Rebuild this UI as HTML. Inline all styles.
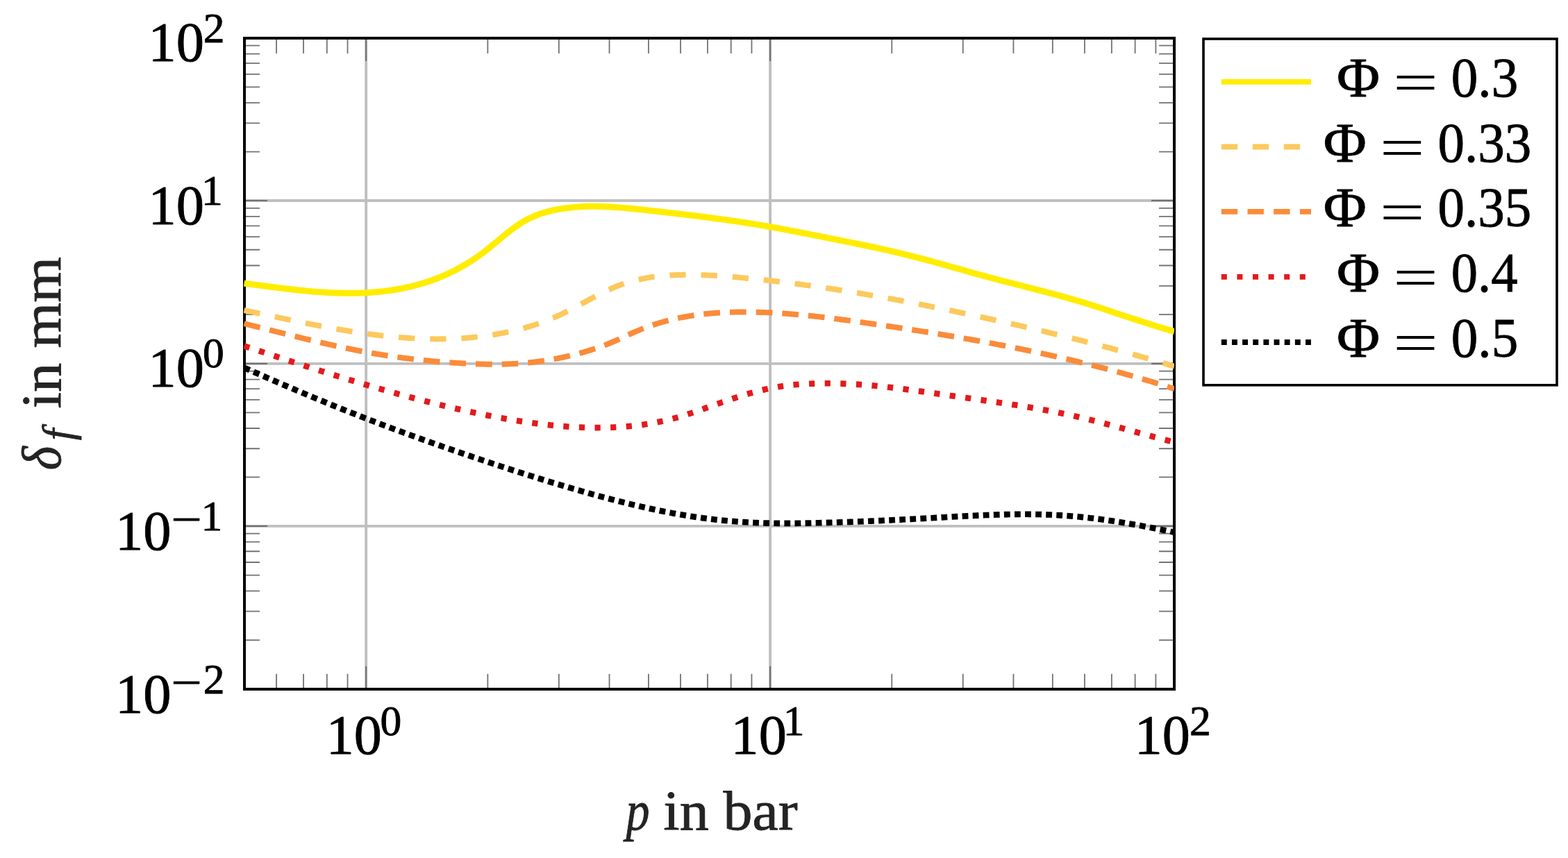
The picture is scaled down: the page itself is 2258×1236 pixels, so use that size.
<!DOCTYPE html><html><head><meta charset="utf-8"><title>flame thickness vs pressure</title><style>
html,body{margin:0;padding:0;background:#fff;width:2258px;height:1236px;overflow:hidden}
svg{display:block}
.t{font-family:"Liberation Serif","DejaVu Serif",serif;fill:#000;stroke:#000;stroke-width:0.9px;stroke-linejoin:round}.eq{font-family:"Liberation Serif","DejaVu Serif",serif;fill:#000}
.lab{font-family:"Liberation Serif","DejaVu Serif",serif;fill:#242424;stroke:#242424;stroke-width:0.9px;stroke-linejoin:round}
</style></head><body>
<svg width="2258" height="1236" viewBox="0 0 2258 1236">
<rect x="0" y="0" width="2258" height="1236" fill="#fff"/>
<defs><clipPath id="ax"><rect x="351" y="0" width="1340.00" height="1236"/></clipPath></defs>
<path d="M527.17,54.95V992.80M1109.09,54.95V992.80M352.00,289.04H1691.00M352.00,523.92H1691.00M352.00,757.86H1691.00" stroke="#bfbfbf" stroke-width="3.90" fill="none"/>
<path d="M398.08,992.80V970.80M398.08,54.95V76.95M437.03,992.80V970.80M437.03,54.95V76.95M470.78,992.80V970.80M470.78,54.95V76.95M500.55,992.80V970.80M500.55,54.95V76.95M702.35,992.80V970.80M702.35,54.95V76.95M804.82,992.80V970.80M804.82,54.95V76.95M877.52,992.80V970.80M877.52,54.95V76.95M933.91,992.80V970.80M933.91,54.95V76.95M979.99,992.80V970.80M979.99,54.95V76.95M1018.95,992.80V970.80M1018.95,54.95V76.95M1052.69,992.80V970.80M1052.69,54.95V76.95M1082.46,992.80V970.80M1082.46,54.95V76.95M1284.26,992.80V970.80M1284.26,54.95V76.95M1386.73,992.80V970.80M1386.73,54.95V76.95M1459.43,992.80V970.80M1459.43,54.95V76.95M1515.83,992.80V970.80M1515.83,54.95V76.95M1561.90,992.80V970.80M1561.90,54.95V76.95M1600.86,992.80V970.80M1600.86,54.95V76.95M1634.61,992.80V970.80M1634.61,54.95V76.95M1664.37,992.80V970.80M1664.37,54.95V76.95M352.00,922.08H374.00M1691.00,922.08H1669.00M352.00,880.71H374.00M1691.00,880.71H1669.00M352.00,851.35H374.00M1691.00,851.35H1669.00M352.00,828.58H374.00M1691.00,828.58H1669.00M352.00,809.98H374.00M1691.00,809.98H1669.00M352.00,794.25H374.00M1691.00,794.25H1669.00M352.00,780.63H374.00M1691.00,780.63H1669.00M352.00,768.61H374.00M1691.00,768.61H1669.00M352.00,687.44H374.00M1691.00,687.44H1669.00M352.00,646.24H374.00M1691.00,646.24H1669.00M352.00,617.01H374.00M1691.00,617.01H1669.00M352.00,594.34H374.00M1691.00,594.34H1669.00M352.00,575.82H374.00M1691.00,575.82H1669.00M352.00,560.16H374.00M1691.00,560.16H1669.00M352.00,546.59H374.00M1691.00,546.59H1669.00M352.00,534.62H374.00M1691.00,534.62H1669.00M352.00,453.21H374.00M1691.00,453.21H1669.00M352.00,411.85H374.00M1691.00,411.85H1669.00M352.00,382.51H374.00M1691.00,382.51H1669.00M352.00,359.75H374.00M1691.00,359.75H1669.00M352.00,341.15H374.00M1691.00,341.15H1669.00M352.00,325.42H374.00M1691.00,325.42H1669.00M352.00,311.80H374.00M1691.00,311.80H1669.00M352.00,299.79H374.00M1691.00,299.79H1669.00M352.00,218.57H374.00M1691.00,218.57H1669.00M352.00,177.35H374.00M1691.00,177.35H1669.00M352.00,148.10H374.00M1691.00,148.10H1669.00M352.00,125.41H374.00M1691.00,125.41H1669.00M352.00,106.87H374.00M1691.00,106.87H1669.00M352.00,91.20H374.00M1691.00,91.20H1669.00M352.00,77.63H374.00M1691.00,77.63H1669.00M352.00,65.65H374.00M1691.00,65.65H1669.00" stroke="#727272" stroke-width="1.80" fill="none"/>
<path d="M527.17,992.80V959.80M527.17,54.95V87.95M1109.09,992.80V959.80M1109.09,54.95V87.95M352.00,289.04H385.00M1691.00,289.04H1658.00M352.00,523.92H385.00M1691.00,523.92H1658.00M352.00,757.86H385.00M1691.00,757.86H1658.00" stroke="#727272" stroke-width="2.10" fill="none"/>
<rect x="352.00" y="54.95" width="1339.00" height="937.85" fill="none" stroke="#000" stroke-width="4.00"/>
<g clip-path="url(#ax)" fill="none" stroke-linecap="butt" stroke-linejoin="round">
<path d="M351.50,408.15 L354.50,408.54 L357.50,408.93 L360.50,409.32 L363.50,409.71 L366.50,410.11 L369.50,410.50 L372.50,410.90 L375.50,411.30 L378.50,411.69 L381.50,412.08 L384.50,412.48 L387.50,412.87 L390.50,413.25 L393.50,413.64 L396.50,414.02 L399.50,414.40 L402.50,414.78 L405.50,415.15 L408.50,415.51 L411.50,415.87 L414.50,416.23 L417.50,416.58 L420.50,416.92 L423.50,417.26 L426.50,417.59 L429.50,417.91 L432.50,418.22 L435.50,418.53 L438.50,418.83 L441.50,419.11 L444.50,419.39 L447.50,419.66 L450.50,419.92 L453.50,420.17 L456.50,420.40 L459.50,420.63 L462.50,420.84 L465.50,421.04 L468.50,421.23 L471.50,421.40 L474.50,421.56 L477.50,421.71 L480.50,421.84 L483.50,421.96 L486.50,422.06 L489.50,422.14 L492.50,422.22 L495.50,422.27 L498.50,422.31 L501.50,422.33 L504.50,422.33 L507.50,422.31 L510.50,422.28 L513.50,422.23 L516.50,422.15 L519.50,422.06 L522.50,421.95 L525.50,421.82 L528.50,421.66 L531.50,421.49 L534.50,421.29 L537.50,421.07 L540.50,420.83 L543.50,420.57 L546.50,420.28 L549.50,419.97 L552.50,419.63 L555.50,419.27 L558.50,418.88 L561.50,418.46 L564.50,418.02 L567.50,417.55 L570.50,417.06 L573.50,416.53 L576.50,415.98 L579.50,415.40 L582.50,414.78 L585.50,414.14 L588.50,413.47 L591.50,412.76 L594.50,412.03 L597.50,411.26 L600.50,410.46 L603.50,409.62 L606.50,408.75 L609.50,407.85 L612.50,406.91 L615.50,405.93 L618.50,404.93 L621.50,403.88 L624.50,402.80 L627.50,401.68 L630.50,400.52 L633.50,399.32 L636.50,398.08 L639.50,396.79 L642.50,395.47 L645.50,394.10 L648.50,392.69 L651.50,391.23 L654.50,389.73 L657.50,388.18 L660.50,386.58 L663.50,384.93 L666.50,383.24 L669.50,381.49 L672.50,379.69 L675.50,377.84 L678.50,375.93 L681.50,373.97 L684.50,371.95 L687.50,369.88 L690.50,367.75 L693.50,365.56 L696.50,363.32 L699.50,361.01 L702.50,358.65 L705.50,356.24 L708.50,353.80 L711.50,351.33 L714.50,348.84 L717.50,346.35 L720.50,343.86 L723.50,341.38 L726.50,338.93 L729.50,336.50 L732.50,334.12 L735.50,331.79 L738.50,329.51 L741.50,327.31 L744.50,325.18 L747.50,323.15 L750.50,321.21 L753.50,319.38 L756.50,317.66 L759.50,316.04 L762.50,314.52 L765.50,313.10 L768.50,311.77 L771.50,310.52 L774.50,309.36 L777.50,308.27 L780.50,307.26 L783.50,306.33 L786.50,305.46 L789.50,304.65 L792.50,303.90 L795.50,303.21 L798.50,302.57 L801.50,301.98 L804.50,301.43 L807.50,300.91 L810.50,300.44 L813.50,300.01 L816.50,299.61 L819.50,299.24 L822.50,298.91 L825.50,298.62 L828.50,298.36 L831.50,298.12 L834.50,297.92 L837.50,297.76 L840.50,297.62 L843.50,297.50 L846.50,297.42 L849.50,297.36 L852.50,297.33 L855.50,297.33 L858.50,297.34 L861.50,297.39 L864.50,297.45 L867.50,297.53 L870.50,297.64 L873.50,297.76 L876.50,297.91 L879.50,298.07 L882.50,298.25 L885.50,298.44 L888.50,298.65 L891.50,298.88 L894.50,299.12 L897.50,299.37 L900.50,299.63 L903.50,299.91 L906.50,300.19 L909.50,300.48 L912.50,300.78 L915.50,301.09 L918.50,301.41 L921.50,301.73 L924.50,302.05 L927.50,302.38 L930.50,302.71 L933.50,303.05 L936.50,303.39 L939.50,303.72 L942.50,304.06 L945.50,304.40 L948.50,304.73 L951.50,305.07 L954.50,305.41 L957.50,305.75 L960.50,306.10 L963.50,306.44 L966.50,306.78 L969.50,307.13 L972.50,307.48 L975.50,307.83 L978.50,308.18 L981.50,308.53 L984.50,308.89 L987.50,309.25 L990.50,309.61 L993.50,309.97 L996.50,310.33 L999.50,310.70 L1002.50,311.07 L1005.50,311.44 L1008.50,311.82 L1011.50,312.19 L1014.50,312.58 L1017.50,312.96 L1020.50,313.35 L1023.50,313.74 L1026.50,314.13 L1029.50,314.53 L1032.50,314.93 L1035.50,315.34 L1038.50,315.75 L1041.50,316.16 L1044.50,316.58 L1047.50,317.00 L1050.50,317.43 L1053.50,317.86 L1056.50,318.29 L1059.50,318.73 L1062.50,319.17 L1065.50,319.62 L1068.50,320.08 L1071.50,320.54 L1074.50,321.00 L1077.50,321.47 L1080.50,321.94 L1083.50,322.42 L1086.50,322.91 L1089.50,323.40 L1092.50,323.90 L1095.50,324.40 L1098.50,324.91 L1101.50,325.43 L1104.50,325.95 L1107.50,326.47 L1110.50,327.00 L1113.50,327.54 L1116.50,328.08 L1119.50,328.63 L1122.50,329.18 L1125.50,329.73 L1128.50,330.29 L1131.50,330.85 L1134.50,331.42 L1137.50,331.99 L1140.50,332.56 L1143.50,333.14 L1146.50,333.71 L1149.50,334.29 L1152.50,334.88 L1155.50,335.46 L1158.50,336.05 L1161.50,336.64 L1164.50,337.23 L1167.50,337.83 L1170.50,338.42 L1173.50,339.02 L1176.50,339.61 L1179.50,340.21 L1182.50,340.81 L1185.50,341.41 L1188.50,342.00 L1191.50,342.60 L1194.50,343.20 L1197.50,343.80 L1200.50,344.39 L1203.50,344.99 L1206.50,345.59 L1209.50,346.19 L1212.50,346.79 L1215.50,347.38 L1218.50,347.99 L1221.50,348.59 L1224.50,349.19 L1227.50,349.80 L1230.50,350.41 L1233.50,351.02 L1236.50,351.63 L1239.50,352.24 L1242.50,352.86 L1245.50,353.49 L1248.50,354.11 L1251.50,354.74 L1254.50,355.38 L1257.50,356.01 L1260.50,356.66 L1263.50,357.31 L1266.50,357.96 L1269.50,358.62 L1272.50,359.28 L1275.50,359.95 L1278.50,360.62 L1281.50,361.30 L1284.50,361.99 L1287.50,362.69 L1290.50,363.39 L1293.50,364.10 L1296.50,364.81 L1299.50,365.54 L1302.50,366.27 L1305.50,367.01 L1308.50,367.76 L1311.50,368.51 L1314.50,369.28 L1317.50,370.05 L1320.50,370.83 L1323.50,371.61 L1326.50,372.40 L1329.50,373.20 L1332.50,374.00 L1335.50,374.81 L1338.50,375.63 L1341.50,376.45 L1344.50,377.27 L1347.50,378.09 L1350.50,378.92 L1353.50,379.76 L1356.50,380.59 L1359.50,381.43 L1362.50,382.27 L1365.50,383.12 L1368.50,383.96 L1371.50,384.81 L1374.50,385.65 L1377.50,386.50 L1380.50,387.34 L1383.50,388.19 L1386.50,389.04 L1389.50,389.88 L1392.50,390.73 L1395.50,391.57 L1398.50,392.41 L1401.50,393.24 L1404.50,394.08 L1407.50,394.91 L1410.50,395.74 L1413.50,396.56 L1416.50,397.38 L1419.50,398.20 L1422.50,399.01 L1425.50,399.82 L1428.50,400.62 L1431.50,401.41 L1434.50,402.21 L1437.50,402.99 L1440.50,403.78 L1443.50,404.56 L1446.50,405.33 L1449.50,406.11 L1452.50,406.88 L1455.50,407.65 L1458.50,408.42 L1461.50,409.18 L1464.50,409.95 L1467.50,410.71 L1470.50,411.48 L1473.50,412.24 L1476.50,413.00 L1479.50,413.77 L1482.50,414.53 L1485.50,415.30 L1488.50,416.07 L1491.50,416.84 L1494.50,417.61 L1497.50,418.39 L1500.50,419.17 L1503.50,419.95 L1506.50,420.74 L1509.50,421.52 L1512.50,422.32 L1515.50,423.12 L1518.50,423.92 L1521.50,424.73 L1524.50,425.55 L1527.50,426.37 L1530.50,427.20 L1533.50,428.03 L1536.50,428.87 L1539.50,429.72 L1542.50,430.58 L1545.50,431.44 L1548.50,432.32 L1551.50,433.20 L1554.50,434.09 L1557.50,434.99 L1560.50,435.91 L1563.50,436.83 L1566.50,437.75 L1569.50,438.69 L1572.50,439.64 L1575.50,440.59 L1578.50,441.55 L1581.50,442.51 L1584.50,443.49 L1587.50,444.46 L1590.50,445.44 L1593.50,446.43 L1596.50,447.42 L1599.50,448.41 L1602.50,449.41 L1605.50,450.40 L1608.50,451.40 L1611.50,452.40 L1614.50,453.40 L1617.50,454.40 L1620.50,455.40 L1623.50,456.40 L1626.50,457.40 L1629.50,458.40 L1632.50,459.39 L1635.50,460.38 L1638.50,461.37 L1641.50,462.35 L1644.50,463.33 L1647.50,464.31 L1650.50,465.28 L1653.50,466.24 L1656.50,467.20 L1659.50,468.15 L1662.50,469.09 L1665.50,470.03 L1668.50,470.95 L1671.50,471.87 L1674.50,472.78 L1677.50,473.67 L1680.50,474.56 L1683.50,475.44 L1686.50,476.30 L1689.50,477.16 L1691.00,477.58" stroke="#FFED00" stroke-width="9.00"/>
<path d="M351.50,446.95 L354.50,447.57 L357.50,448.20 L360.50,448.83 L363.50,449.46 L366.50,450.09 L369.50,450.72 L372.50,451.36 L375.50,451.99 L378.50,452.63 L381.50,453.26 L384.50,453.90 L387.50,454.53 L390.50,455.17 L393.50,455.80 L396.50,456.43 L399.50,457.07 L402.50,457.70 L405.50,458.33 L408.50,458.96 L411.50,459.59 L414.50,460.21 L417.50,460.84 L420.50,461.46 L423.50,462.08 L426.50,462.69 L429.50,463.31 L432.50,463.92 L435.50,464.53 L438.50,465.13 L441.50,465.73 L444.50,466.33 L447.50,466.92 L450.50,467.51 L453.50,468.10 L456.50,468.68 L459.50,469.26 L462.50,469.83 L465.50,470.39 L468.50,470.95 L471.50,471.51 L474.50,472.06 L477.50,472.61 L480.50,473.14 L483.50,473.68 L486.50,474.20 L489.50,474.72 L492.50,475.24 L495.50,475.74 L498.50,476.24 L501.50,476.73 L504.50,477.22 L507.50,477.70 L510.50,478.17 L513.50,478.63 L516.50,479.08 L519.50,479.52 L522.50,479.96 L525.50,480.39 L528.50,480.81 L531.50,481.22 L534.50,481.62 L537.50,482.01 L540.50,482.39 L543.50,482.76 L546.50,483.12 L549.50,483.47 L552.50,483.81 L555.50,484.14 L558.50,484.46 L561.50,484.77 L564.50,485.06 L567.50,485.35 L570.50,485.62 L573.50,485.88 L576.50,486.13 L579.50,486.37 L582.50,486.60 L585.50,486.81 L588.50,487.01 L591.50,487.20 L594.50,487.37 L597.50,487.54 L600.50,487.68 L603.50,487.82 L606.50,487.94 L609.50,488.04 L612.50,488.14 L615.50,488.21 L618.50,488.28 L621.50,488.33 L624.50,488.36 L627.50,488.38 L630.50,488.38 L633.50,488.37 L636.50,488.34 L639.50,488.30 L642.50,488.24 L645.50,488.16 L648.50,488.07 L651.50,487.96 L654.50,487.83 L657.50,487.69 L660.50,487.53 L663.50,487.35 L666.50,487.15 L669.50,486.94 L672.50,486.71 L675.50,486.46 L678.50,486.19 L681.50,485.91 L684.50,485.60 L687.50,485.28 L690.50,484.93 L693.50,484.57 L696.50,484.19 L699.50,483.79 L702.50,483.37 L705.50,482.93 L708.50,482.46 L711.50,481.98 L714.50,481.48 L717.50,480.96 L720.50,480.41 L723.50,479.85 L726.50,479.26 L729.50,478.65 L732.50,478.02 L735.50,477.37 L738.50,476.69 L741.50,475.98 L744.50,475.26 L747.50,474.50 L750.50,473.72 L753.50,472.91 L756.50,472.08 L759.50,471.21 L762.50,470.32 L765.50,469.40 L768.50,468.45 L771.50,467.47 L774.50,466.46 L777.50,465.41 L780.50,464.34 L783.50,463.23 L786.50,462.08 L789.50,460.91 L792.50,459.70 L795.50,458.45 L798.50,457.17 L801.50,455.85 L804.50,454.49 L807.50,453.10 L810.50,451.67 L813.50,450.20 L816.50,448.71 L819.50,447.18 L822.50,445.63 L825.50,444.06 L828.50,442.47 L831.50,440.86 L834.50,439.25 L837.50,437.63 L840.50,436.00 L843.50,434.37 L846.50,432.75 L849.50,431.14 L852.50,429.53 L855.50,427.94 L858.50,426.36 L861.50,424.80 L864.50,423.27 L867.50,421.77 L870.50,420.30 L873.50,418.86 L876.50,417.46 L879.50,416.10 L882.50,414.79 L885.50,413.52 L888.50,412.31 L891.50,411.15 L894.50,410.04 L897.50,408.99 L900.50,407.99 L903.50,407.03 L906.50,406.13 L909.50,405.27 L912.50,404.46 L915.50,403.70 L918.50,402.98 L921.50,402.30 L924.50,401.66 L927.50,401.07 L930.50,400.51 L933.50,399.99 L936.50,399.51 L939.50,399.06 L942.50,398.65 L945.50,398.27 L948.50,397.93 L951.50,397.61 L954.50,397.33 L957.50,397.07 L960.50,396.84 L963.50,396.64 L966.50,396.46 L969.50,396.30 L972.50,396.17 L975.50,396.06 L978.50,395.97 L981.50,395.90 L984.50,395.85 L987.50,395.81 L990.50,395.80 L993.50,395.80 L996.50,395.82 L999.50,395.86 L1002.50,395.91 L1005.50,395.98 L1008.50,396.06 L1011.50,396.16 L1014.50,396.27 L1017.50,396.40 L1020.50,396.54 L1023.50,396.69 L1026.50,396.85 L1029.50,397.03 L1032.50,397.21 L1035.50,397.41 L1038.50,397.61 L1041.50,397.83 L1044.50,398.05 L1047.50,398.28 L1050.50,398.52 L1053.50,398.77 L1056.50,399.03 L1059.50,399.29 L1062.50,399.56 L1065.50,399.83 L1068.50,400.11 L1071.50,400.39 L1074.50,400.67 L1077.50,400.97 L1080.50,401.26 L1083.50,401.56 L1086.50,401.87 L1089.50,402.17 L1092.50,402.49 L1095.50,402.81 L1098.50,403.13 L1101.50,403.46 L1104.50,403.79 L1107.50,404.12 L1110.50,404.46 L1113.50,404.81 L1116.50,405.15 L1119.50,405.51 L1122.50,405.86 L1125.50,406.22 L1128.50,406.59 L1131.50,406.96 L1134.50,407.33 L1137.50,407.71 L1140.50,408.09 L1143.50,408.48 L1146.50,408.87 L1149.50,409.26 L1152.50,409.66 L1155.50,410.06 L1158.50,410.47 L1161.50,410.88 L1164.50,411.29 L1167.50,411.71 L1170.50,412.13 L1173.50,412.55 L1176.50,412.98 L1179.50,413.41 L1182.50,413.85 L1185.50,414.29 L1188.50,414.73 L1191.50,415.18 L1194.50,415.63 L1197.50,416.09 L1200.50,416.55 L1203.50,417.01 L1206.50,417.47 L1209.50,417.94 L1212.50,418.41 L1215.50,418.89 L1218.50,419.37 L1221.50,419.85 L1224.50,420.34 L1227.50,420.83 L1230.50,421.32 L1233.50,421.82 L1236.50,422.32 L1239.50,422.82 L1242.50,423.33 L1245.50,423.84 L1248.50,424.35 L1251.50,424.86 L1254.50,425.38 L1257.50,425.91 L1260.50,426.43 L1263.50,426.96 L1266.50,427.49 L1269.50,428.03 L1272.50,428.56 L1275.50,429.11 L1278.50,429.65 L1281.50,430.20 L1284.50,430.75 L1287.50,431.30 L1290.50,431.85 L1293.50,432.41 L1296.50,432.97 L1299.50,433.54 L1302.50,434.11 L1305.50,434.67 L1308.50,435.25 L1311.50,435.82 L1314.50,436.40 L1317.50,436.98 L1320.50,437.56 L1323.50,438.15 L1326.50,438.74 L1329.50,439.33 L1332.50,439.92 L1335.50,440.52 L1338.50,441.12 L1341.50,441.72 L1344.50,442.32 L1347.50,442.93 L1350.50,443.54 L1353.50,444.15 L1356.50,444.76 L1359.50,445.38 L1362.50,446.00 L1365.50,446.62 L1368.50,447.24 L1371.50,447.87 L1374.50,448.49 L1377.50,449.12 L1380.50,449.75 L1383.50,450.39 L1386.50,451.02 L1389.50,451.66 L1392.50,452.30 L1395.50,452.95 L1398.50,453.59 L1401.50,454.24 L1404.50,454.88 L1407.50,455.54 L1410.50,456.19 L1413.50,456.84 L1416.50,457.50 L1419.50,458.16 L1422.50,458.82 L1425.50,459.48 L1428.50,460.14 L1431.50,460.81 L1434.50,461.47 L1437.50,462.14 L1440.50,462.82 L1443.50,463.49 L1446.50,464.16 L1449.50,464.84 L1452.50,465.52 L1455.50,466.20 L1458.50,466.89 L1461.50,467.57 L1464.50,468.26 L1467.50,468.95 L1470.50,469.64 L1473.50,470.33 L1476.50,471.03 L1479.50,471.73 L1482.50,472.43 L1485.50,473.13 L1488.50,473.84 L1491.50,474.54 L1494.50,475.25 L1497.50,475.97 L1500.50,476.68 L1503.50,477.40 L1506.50,478.12 L1509.50,478.84 L1512.50,479.56 L1515.50,480.29 L1518.50,481.02 L1521.50,481.75 L1524.50,482.48 L1527.50,483.22 L1530.50,483.96 L1533.50,484.70 L1536.50,485.44 L1539.50,486.19 L1542.50,486.94 L1545.50,487.69 L1548.50,488.45 L1551.50,489.20 L1554.50,489.97 L1557.50,490.73 L1560.50,491.49 L1563.50,492.26 L1566.50,493.03 L1569.50,493.81 L1572.50,494.59 L1575.50,495.37 L1578.50,496.15 L1581.50,496.93 L1584.50,497.72 L1587.50,498.51 L1590.50,499.31 L1593.50,500.11 L1596.50,500.91 L1599.50,501.71 L1602.50,502.52 L1605.50,503.33 L1608.50,504.14 L1611.50,504.96 L1614.50,505.78 L1617.50,506.60 L1620.50,507.42 L1623.50,508.25 L1626.50,509.08 L1629.50,509.92 L1632.50,510.76 L1635.50,511.60 L1638.50,512.45 L1641.50,513.29 L1644.50,514.15 L1647.50,515.00 L1650.50,515.86 L1653.50,516.72 L1656.50,517.59 L1659.50,518.46 L1662.50,519.33 L1665.50,520.20 L1668.50,521.08 L1671.50,521.97 L1674.50,522.85 L1677.50,523.74 L1680.50,524.64 L1683.50,525.53 L1686.50,526.43 L1689.50,527.34 L1691.00,527.79" stroke="#FCC95D" stroke-width="8.00" stroke-dasharray="23.3 21.92"/>
<path d="M351.50,466.24 L354.50,466.98 L357.50,467.72 L360.50,468.46 L363.50,469.21 L366.50,469.95 L369.50,470.70 L372.50,471.44 L375.50,472.19 L378.50,472.94 L381.50,473.69 L384.50,474.44 L387.50,475.20 L390.50,475.95 L393.50,476.70 L396.50,477.45 L399.50,478.20 L402.50,478.95 L405.50,479.70 L408.50,480.45 L411.50,481.20 L414.50,481.94 L417.50,482.69 L420.50,483.43 L423.50,484.17 L426.50,484.91 L429.50,485.64 L432.50,486.38 L435.50,487.11 L438.50,487.84 L441.50,488.56 L444.50,489.29 L447.50,490.00 L450.50,490.72 L453.50,491.43 L456.50,492.14 L459.50,492.84 L462.50,493.54 L465.50,494.23 L468.50,494.92 L471.50,495.61 L474.50,496.29 L477.50,496.96 L480.50,497.63 L483.50,498.29 L486.50,498.95 L489.50,499.60 L492.50,500.25 L495.50,500.88 L498.50,501.52 L501.50,502.14 L504.50,502.76 L507.50,503.37 L510.50,503.97 L513.50,504.57 L516.50,505.16 L519.50,505.74 L522.50,506.31 L525.50,506.87 L528.50,507.43 L531.50,507.98 L534.50,508.51 L537.50,509.04 L540.50,509.56 L543.50,510.07 L546.50,510.57 L549.50,511.06 L552.50,511.55 L555.50,512.02 L558.50,512.48 L561.50,512.93 L564.50,513.37 L567.50,513.81 L570.50,514.23 L573.50,514.65 L576.50,515.05 L579.50,515.45 L582.50,515.84 L585.50,516.22 L588.50,516.59 L591.50,516.95 L594.50,517.30 L597.50,517.65 L600.50,517.98 L603.50,518.31 L606.50,518.63 L609.50,518.94 L612.50,519.25 L615.50,519.54 L618.50,519.83 L621.50,520.11 L624.50,520.38 L627.50,520.65 L630.50,520.90 L633.50,521.15 L636.50,521.39 L639.50,521.63 L642.50,521.85 L645.50,522.07 L648.50,522.28 L651.50,522.49 L654.50,522.69 L657.50,522.88 L660.50,523.07 L663.50,523.24 L666.50,523.41 L669.50,523.58 L672.50,523.73 L675.50,523.88 L678.50,524.01 L681.50,524.14 L684.50,524.26 L687.50,524.36 L690.50,524.46 L693.50,524.54 L696.50,524.61 L699.50,524.67 L702.50,524.71 L705.50,524.75 L708.50,524.77 L711.50,524.77 L714.50,524.76 L717.50,524.73 L720.50,524.69 L723.50,524.64 L726.50,524.56 L729.50,524.47 L732.50,524.36 L735.50,524.24 L738.50,524.09 L741.50,523.93 L744.50,523.74 L747.50,523.54 L750.50,523.32 L753.50,523.09 L756.50,522.83 L759.50,522.55 L762.50,522.25 L765.50,521.94 L768.50,521.60 L771.50,521.25 L774.50,520.87 L777.50,520.48 L780.50,520.06 L783.50,519.62 L786.50,519.17 L789.50,518.69 L792.50,518.19 L795.50,517.67 L798.50,517.13 L801.50,516.57 L804.50,515.99 L807.50,515.38 L810.50,514.76 L813.50,514.11 L816.50,513.44 L819.50,512.75 L822.50,512.03 L825.50,511.30 L828.50,510.54 L831.50,509.76 L834.50,508.96 L837.50,508.13 L840.50,507.28 L843.50,506.41 L846.50,505.51 L849.50,504.59 L852.50,503.65 L855.50,502.68 L858.50,501.68 L861.50,500.65 L864.50,499.59 L867.50,498.51 L870.50,497.38 L873.50,496.23 L876.50,495.04 L879.50,493.81 L882.50,492.54 L885.50,491.24 L888.50,489.91 L891.50,488.55 L894.50,487.17 L897.50,485.79 L900.50,484.39 L903.50,483.01 L906.50,481.63 L909.50,480.26 L912.50,478.92 L915.50,477.61 L918.50,476.33 L921.50,475.09 L924.50,473.89 L927.50,472.72 L930.50,471.59 L933.50,470.49 L936.50,469.43 L939.50,468.40 L942.50,467.41 L945.50,466.45 L948.50,465.52 L951.50,464.62 L954.50,463.75 L957.50,462.92 L960.50,462.12 L963.50,461.34 L966.50,460.60 L969.50,459.89 L972.50,459.20 L975.50,458.54 L978.50,457.91 L981.50,457.31 L984.50,456.73 L987.50,456.19 L990.50,455.66 L993.50,455.16 L996.50,454.69 L999.50,454.24 L1002.50,453.82 L1005.50,453.41 L1008.50,453.03 L1011.50,452.68 L1014.50,452.34 L1017.50,452.03 L1020.50,451.74 L1023.50,451.47 L1026.50,451.21 L1029.50,450.98 L1032.50,450.77 L1035.50,450.57 L1038.50,450.40 L1041.50,450.24 L1044.50,450.10 L1047.50,449.97 L1050.50,449.86 L1053.50,449.77 L1056.50,449.69 L1059.50,449.62 L1062.50,449.57 L1065.50,449.54 L1068.50,449.52 L1071.50,449.51 L1074.50,449.51 L1077.50,449.53 L1080.50,449.56 L1083.50,449.60 L1086.50,449.65 L1089.50,449.72 L1092.50,449.80 L1095.50,449.89 L1098.50,449.99 L1101.50,450.10 L1104.50,450.22 L1107.50,450.36 L1110.50,450.50 L1113.50,450.66 L1116.50,450.82 L1119.50,451.00 L1122.50,451.18 L1125.50,451.38 L1128.50,451.59 L1131.50,451.80 L1134.50,452.02 L1137.50,452.26 L1140.50,452.50 L1143.50,452.75 L1146.50,453.01 L1149.50,453.27 L1152.50,453.55 L1155.50,453.83 L1158.50,454.12 L1161.50,454.42 L1164.50,454.72 L1167.50,455.03 L1170.50,455.35 L1173.50,455.68 L1176.50,456.01 L1179.50,456.35 L1182.50,456.69 L1185.50,457.04 L1188.50,457.40 L1191.50,457.76 L1194.50,458.12 L1197.50,458.49 L1200.50,458.87 L1203.50,459.25 L1206.50,459.64 L1209.50,460.03 L1212.50,460.42 L1215.50,460.82 L1218.50,461.22 L1221.50,461.62 L1224.50,462.03 L1227.50,462.44 L1230.50,462.86 L1233.50,463.28 L1236.50,463.70 L1239.50,464.12 L1242.50,464.54 L1245.50,464.97 L1248.50,465.40 L1251.50,465.83 L1254.50,466.26 L1257.50,466.69 L1260.50,467.13 L1263.50,467.56 L1266.50,468.00 L1269.50,468.44 L1272.50,468.88 L1275.50,469.32 L1278.50,469.76 L1281.50,470.21 L1284.50,470.66 L1287.50,471.11 L1290.50,471.56 L1293.50,472.01 L1296.50,472.46 L1299.50,472.92 L1302.50,473.38 L1305.50,473.84 L1308.50,474.30 L1311.50,474.76 L1314.50,475.23 L1317.50,475.70 L1320.50,476.17 L1323.50,476.64 L1326.50,477.11 L1329.50,477.59 L1332.50,478.07 L1335.50,478.55 L1338.50,479.03 L1341.50,479.52 L1344.50,480.01 L1347.50,480.50 L1350.50,480.99 L1353.50,481.48 L1356.50,481.98 L1359.50,482.48 L1362.50,482.98 L1365.50,483.48 L1368.50,483.99 L1371.50,484.50 L1374.50,485.01 L1377.50,485.52 L1380.50,486.04 L1383.50,486.56 L1386.50,487.08 L1389.50,487.61 L1392.50,488.13 L1395.50,488.66 L1398.50,489.20 L1401.50,489.73 L1404.50,490.27 L1407.50,490.81 L1410.50,491.35 L1413.50,491.90 L1416.50,492.45 L1419.50,493.00 L1422.50,493.56 L1425.50,494.12 L1428.50,494.68 L1431.50,495.25 L1434.50,495.81 L1437.50,496.39 L1440.50,496.96 L1443.50,497.54 L1446.50,498.12 L1449.50,498.70 L1452.50,499.29 L1455.50,499.88 L1458.50,500.48 L1461.50,501.08 L1464.50,501.68 L1467.50,502.29 L1470.50,502.89 L1473.50,503.51 L1476.50,504.12 L1479.50,504.74 L1482.50,505.37 L1485.50,506.00 L1488.50,506.63 L1491.50,507.26 L1494.50,507.90 L1497.50,508.55 L1500.50,509.19 L1503.50,509.85 L1506.50,510.50 L1509.50,511.16 L1512.50,511.83 L1515.50,512.49 L1518.50,513.17 L1521.50,513.84 L1524.50,514.52 L1527.50,515.21 L1530.50,515.90 L1533.50,516.59 L1536.50,517.29 L1539.50,517.99 L1542.50,518.70 L1545.50,519.41 L1548.50,520.13 L1551.50,520.85 L1554.50,521.58 L1557.50,522.31 L1560.50,523.04 L1563.50,523.78 L1566.50,524.53 L1569.50,525.28 L1572.50,526.03 L1575.50,526.79 L1578.50,527.55 L1581.50,528.32 L1584.50,529.10 L1587.50,529.88 L1590.50,530.66 L1593.50,531.45 L1596.50,532.25 L1599.50,533.05 L1602.50,533.85 L1605.50,534.66 L1608.50,535.48 L1611.50,536.30 L1614.50,537.13 L1617.50,537.96 L1620.50,538.80 L1623.50,539.64 L1626.50,540.49 L1629.50,541.34 L1632.50,542.20 L1635.50,543.07 L1638.50,543.94 L1641.50,544.82 L1644.50,545.70 L1647.50,546.59 L1650.50,547.48 L1653.50,548.38 L1656.50,549.29 L1659.50,550.20 L1662.50,551.12 L1665.50,552.05 L1668.50,552.98 L1671.50,553.91 L1674.50,554.86 L1677.50,555.80 L1680.50,556.76 L1683.50,557.72 L1686.50,558.69 L1689.50,559.66 L1691.00,560.15" stroke="#FB8B3A" stroke-width="8.00" stroke-dasharray="23.7 14.0"/>
<path d="M351.50,498.31 L354.50,499.30 L357.50,500.30 L360.50,501.29 L363.50,502.28 L366.50,503.28 L369.50,504.27 L372.50,505.26 L375.50,506.25 L378.50,507.25 L381.50,508.24 L384.50,509.22 L387.50,510.21 L390.50,511.20 L393.50,512.19 L396.50,513.17 L399.50,514.16 L402.50,515.14 L405.50,516.12 L408.50,517.10 L411.50,518.08 L414.50,519.06 L417.50,520.04 L420.50,521.01 L423.50,521.99 L426.50,522.96 L429.50,523.93 L432.50,524.90 L435.50,525.87 L438.50,526.83 L441.50,527.80 L444.50,528.76 L447.50,529.72 L450.50,530.67 L453.50,531.63 L456.50,532.58 L459.50,533.54 L462.50,534.48 L465.50,535.43 L468.50,536.38 L471.50,537.32 L474.50,538.26 L477.50,539.20 L480.50,540.13 L483.50,541.06 L486.50,541.99 L489.50,542.92 L492.50,543.84 L495.50,544.76 L498.50,545.68 L501.50,546.60 L504.50,547.51 L507.50,548.42 L510.50,549.33 L513.50,550.23 L516.50,551.13 L519.50,552.03 L522.50,552.92 L525.50,553.81 L528.50,554.70 L531.50,555.58 L534.50,556.46 L537.50,557.33 L540.50,558.21 L543.50,559.08 L546.50,559.94 L549.50,560.80 L552.50,561.66 L555.50,562.51 L558.50,563.36 L561.50,564.21 L564.50,565.05 L567.50,565.89 L570.50,566.72 L573.50,567.55 L576.50,568.37 L579.50,569.19 L582.50,570.01 L585.50,570.82 L588.50,571.63 L591.50,572.43 L594.50,573.23 L597.50,574.02 L600.50,574.81 L603.50,575.59 L606.50,576.37 L609.50,577.14 L612.50,577.91 L615.50,578.68 L618.50,579.44 L621.50,580.19 L624.50,580.94 L627.50,581.68 L630.50,582.42 L633.50,583.15 L636.50,583.88 L639.50,584.60 L642.50,585.32 L645.50,586.03 L648.50,586.74 L651.50,587.44 L654.50,588.13 L657.50,588.82 L660.50,589.50 L663.50,590.18 L666.50,590.85 L669.50,591.51 L672.50,592.17 L675.50,592.83 L678.50,593.47 L681.50,594.11 L684.50,594.75 L687.50,595.38 L690.50,596.00 L693.50,596.61 L696.50,597.22 L699.50,597.82 L702.50,598.42 L705.50,599.01 L708.50,599.59 L711.50,600.17 L714.50,600.73 L717.50,601.29 L720.50,601.85 L723.50,602.39 L726.50,602.93 L729.50,603.46 L732.50,603.98 L735.50,604.50 L738.50,605.00 L741.50,605.50 L744.50,605.99 L747.50,606.46 L750.50,606.93 L753.50,607.39 L756.50,607.84 L759.50,608.28 L762.50,608.71 L765.50,609.13 L768.50,609.54 L771.50,609.94 L774.50,610.33 L777.50,610.70 L780.50,611.07 L783.50,611.42 L786.50,611.77 L789.50,612.10 L792.50,612.42 L795.50,612.73 L798.50,613.02 L801.50,613.30 L804.50,613.57 L807.50,613.83 L810.50,614.08 L813.50,614.31 L816.50,614.53 L819.50,614.73 L822.50,614.92 L825.50,615.10 L828.50,615.26 L831.50,615.41 L834.50,615.55 L837.50,615.67 L840.50,615.77 L843.50,615.86 L846.50,615.94 L849.50,616.00 L852.50,616.04 L855.50,616.07 L858.50,616.08 L861.50,616.08 L864.50,616.06 L867.50,616.02 L870.50,615.97 L873.50,615.90 L876.50,615.81 L879.50,615.71 L882.50,615.59 L885.50,615.45 L888.50,615.30 L891.50,615.12 L894.50,614.93 L897.50,614.72 L900.50,614.49 L903.50,614.24 L906.50,613.96 L909.50,613.67 L912.50,613.36 L915.50,613.03 L918.50,612.67 L921.50,612.30 L924.50,611.90 L927.50,611.47 L930.50,611.03 L933.50,610.56 L936.50,610.06 L939.50,609.55 L942.50,609.00 L945.50,608.44 L948.50,607.84 L951.50,607.23 L954.50,606.58 L957.50,605.91 L960.50,605.21 L963.50,604.48 L966.50,603.73 L969.50,602.95 L972.50,602.14 L975.50,601.30 L978.50,600.43 L981.50,599.54 L984.50,598.62 L987.50,597.68 L990.50,596.71 L993.50,595.73 L996.50,594.74 L999.50,593.72 L1002.50,592.70 L1005.50,591.66 L1008.50,590.61 L1011.50,589.55 L1014.50,588.48 L1017.50,587.41 L1020.50,586.34 L1023.50,585.27 L1026.50,584.19 L1029.50,583.12 L1032.50,582.05 L1035.50,580.99 L1038.50,579.93 L1041.50,578.89 L1044.50,577.85 L1047.50,576.82 L1050.50,575.81 L1053.50,574.81 L1056.50,573.81 L1059.50,572.84 L1062.50,571.88 L1065.50,570.93 L1068.50,570.00 L1071.50,569.08 L1074.50,568.19 L1077.50,567.31 L1080.50,566.45 L1083.50,565.61 L1086.50,564.79 L1089.50,564.00 L1092.50,563.22 L1095.50,562.48 L1098.50,561.75 L1101.50,561.05 L1104.50,560.38 L1107.50,559.73 L1110.50,559.11 L1113.50,558.51 L1116.50,557.95 L1119.50,557.42 L1122.50,556.92 L1125.50,556.45 L1128.50,556.01 L1131.50,555.60 L1134.50,555.22 L1137.50,554.87 L1140.50,554.55 L1143.50,554.25 L1146.50,553.98 L1149.50,553.73 L1152.50,553.51 L1155.50,553.30 L1158.50,553.12 L1161.50,552.96 L1164.50,552.82 L1167.50,552.69 L1170.50,552.58 L1173.50,552.48 L1176.50,552.40 L1179.50,552.34 L1182.50,552.29 L1185.50,552.26 L1188.50,552.24 L1191.50,552.23 L1194.50,552.24 L1197.50,552.27 L1200.50,552.31 L1203.50,552.36 L1206.50,552.43 L1209.50,552.51 L1212.50,552.60 L1215.50,552.71 L1218.50,552.84 L1221.50,552.97 L1224.50,553.12 L1227.50,553.28 L1230.50,553.46 L1233.50,553.64 L1236.50,553.84 L1239.50,554.05 L1242.50,554.27 L1245.50,554.51 L1248.50,554.75 L1251.50,555.00 L1254.50,555.27 L1257.50,555.54 L1260.50,555.82 L1263.50,556.11 L1266.50,556.42 L1269.50,556.73 L1272.50,557.04 L1275.50,557.37 L1278.50,557.70 L1281.50,558.05 L1284.50,558.39 L1287.50,558.75 L1290.50,559.11 L1293.50,559.48 L1296.50,559.86 L1299.50,560.24 L1302.50,560.62 L1305.50,561.01 L1308.50,561.41 L1311.50,561.81 L1314.50,562.21 L1317.50,562.62 L1320.50,563.04 L1323.50,563.45 L1326.50,563.87 L1329.50,564.29 L1332.50,564.72 L1335.50,565.14 L1338.50,565.57 L1341.50,566.00 L1344.50,566.43 L1347.50,566.87 L1350.50,567.30 L1353.50,567.73 L1356.50,568.17 L1359.50,568.60 L1362.50,569.03 L1365.50,569.47 L1368.50,569.90 L1371.50,570.33 L1374.50,570.76 L1377.50,571.19 L1380.50,571.61 L1383.50,572.04 L1386.50,572.46 L1389.50,572.88 L1392.50,573.31 L1395.50,573.73 L1398.50,574.15 L1401.50,574.58 L1404.50,575.00 L1407.50,575.42 L1410.50,575.85 L1413.50,576.27 L1416.50,576.70 L1419.50,577.13 L1422.50,577.56 L1425.50,577.99 L1428.50,578.42 L1431.50,578.86 L1434.50,579.29 L1437.50,579.73 L1440.50,580.18 L1443.50,580.62 L1446.50,581.07 L1449.50,581.52 L1452.50,581.98 L1455.50,582.44 L1458.50,582.90 L1461.50,583.37 L1464.50,583.84 L1467.50,584.32 L1470.50,584.80 L1473.50,585.29 L1476.50,585.78 L1479.50,586.28 L1482.50,586.78 L1485.50,587.29 L1488.50,587.80 L1491.50,588.32 L1494.50,588.85 L1497.50,589.38 L1500.50,589.92 L1503.50,590.47 L1506.50,591.02 L1509.50,591.58 L1512.50,592.15 L1515.50,592.73 L1518.50,593.31 L1521.50,593.90 L1524.50,594.50 L1527.50,595.11 L1530.50,595.73 L1533.50,596.36 L1536.50,597.00 L1539.50,597.64 L1542.50,598.30 L1545.50,598.96 L1548.50,599.64 L1551.50,600.32 L1554.50,601.02 L1557.50,601.72 L1560.50,602.44 L1563.50,603.16 L1566.50,603.89 L1569.50,604.63 L1572.50,605.38 L1575.50,606.14 L1578.50,606.90 L1581.50,607.67 L1584.50,608.45 L1587.50,609.23 L1590.50,610.02 L1593.50,610.81 L1596.50,611.61 L1599.50,612.41 L1602.50,613.22 L1605.50,614.03 L1608.50,614.84 L1611.50,615.66 L1614.50,616.47 L1617.50,617.29 L1620.50,618.12 L1623.50,618.94 L1626.50,619.76 L1629.50,620.59 L1632.50,621.41 L1635.50,622.24 L1638.50,623.06 L1641.50,623.88 L1644.50,624.70 L1647.50,625.52 L1650.50,626.34 L1653.50,627.15 L1656.50,627.96 L1659.50,628.77 L1662.50,629.57 L1665.50,630.37 L1668.50,631.16 L1671.50,631.95 L1674.50,632.74 L1677.50,633.51 L1680.50,634.29 L1683.50,635.05 L1686.50,635.81 L1689.50,636.56 L1691.00,636.93" stroke="#E31A1C" stroke-width="8.60" stroke-dasharray="8.2 14.43"/>
<path d="M351.50,529.58 L354.50,530.91 L357.50,532.24 L360.50,533.57 L363.50,534.89 L366.50,536.21 L369.50,537.53 L372.50,538.85 L375.50,540.16 L378.50,541.47 L381.50,542.78 L384.50,544.09 L387.50,545.39 L390.50,546.69 L393.50,547.99 L396.50,549.28 L399.50,550.58 L402.50,551.87 L405.50,553.16 L408.50,554.44 L411.50,555.72 L414.50,557.00 L417.50,558.28 L420.50,559.55 L423.50,560.82 L426.50,562.09 L429.50,563.36 L432.50,564.62 L435.50,565.88 L438.50,567.14 L441.50,568.39 L444.50,569.64 L447.50,570.89 L450.50,572.13 L453.50,573.37 L456.50,574.61 L459.50,575.85 L462.50,577.08 L465.50,578.31 L468.50,579.54 L471.50,580.76 L474.50,581.98 L477.50,583.20 L480.50,584.41 L483.50,585.62 L486.50,586.83 L489.50,588.03 L492.50,589.24 L495.50,590.43 L498.50,591.63 L501.50,592.82 L504.50,594.01 L507.50,595.19 L510.50,596.37 L513.50,597.55 L516.50,598.73 L519.50,599.90 L522.50,601.06 L525.50,602.23 L528.50,603.39 L531.50,604.55 L534.50,605.70 L537.50,606.85 L540.50,608.00 L543.50,609.14 L546.50,610.28 L549.50,611.42 L552.50,612.55 L555.50,613.68 L558.50,614.80 L561.50,615.93 L564.50,617.04 L567.50,618.16 L570.50,619.27 L573.50,620.38 L576.50,621.48 L579.50,622.59 L582.50,623.68 L585.50,624.78 L588.50,625.87 L591.50,626.96 L594.50,628.05 L597.50,629.13 L600.50,630.21 L603.50,631.29 L606.50,632.36 L609.50,633.44 L612.50,634.50 L615.50,635.57 L618.50,636.64 L621.50,637.70 L624.50,638.76 L627.50,639.81 L630.50,640.87 L633.50,641.92 L636.50,642.97 L639.50,644.01 L642.50,645.06 L645.50,646.10 L648.50,647.14 L651.50,648.18 L654.50,649.21 L657.50,650.25 L660.50,651.28 L663.50,652.31 L666.50,653.34 L669.50,654.36 L672.50,655.39 L675.50,656.41 L678.50,657.43 L681.50,658.45 L684.50,659.46 L687.50,660.48 L690.50,661.49 L693.50,662.50 L696.50,663.50 L699.50,664.51 L702.50,665.51 L705.50,666.51 L708.50,667.51 L711.50,668.50 L714.50,669.49 L717.50,670.48 L720.50,671.47 L723.50,672.46 L726.50,673.44 L729.50,674.42 L732.50,675.39 L735.50,676.37 L738.50,677.34 L741.50,678.31 L744.50,679.27 L747.50,680.24 L750.50,681.20 L753.50,682.15 L756.50,683.11 L759.50,684.06 L762.50,685.00 L765.50,685.95 L768.50,686.89 L771.50,687.83 L774.50,688.76 L777.50,689.69 L780.50,690.62 L783.50,691.54 L786.50,692.46 L789.50,693.38 L792.50,694.30 L795.50,695.21 L798.50,696.11 L801.50,697.02 L804.50,697.92 L807.50,698.81 L810.50,699.70 L813.50,700.59 L816.50,701.48 L819.50,702.36 L822.50,703.23 L825.50,704.11 L828.50,704.98 L831.50,705.84 L834.50,706.70 L837.50,707.56 L840.50,708.41 L843.50,709.26 L846.50,710.11 L849.50,710.95 L852.50,711.78 L855.50,712.61 L858.50,713.44 L861.50,714.26 L864.50,715.07 L867.50,715.88 L870.50,716.69 L873.50,717.49 L876.50,718.28 L879.50,719.07 L882.50,719.85 L885.50,720.63 L888.50,721.40 L891.50,722.16 L894.50,722.92 L897.50,723.67 L900.50,724.41 L903.50,725.15 L906.50,725.88 L909.50,726.60 L912.50,727.32 L915.50,728.03 L918.50,728.73 L921.50,729.43 L924.50,730.11 L927.50,730.79 L930.50,731.46 L933.50,732.13 L936.50,732.78 L939.50,733.43 L942.50,734.07 L945.50,734.70 L948.50,735.32 L951.50,735.93 L954.50,736.54 L957.50,737.13 L960.50,737.72 L963.50,738.29 L966.50,738.86 L969.50,739.42 L972.50,739.97 L975.50,740.51 L978.50,741.03 L981.50,741.55 L984.50,742.06 L987.50,742.56 L990.50,743.05 L993.50,743.53 L996.50,743.99 L999.50,744.45 L1002.50,744.89 L1005.50,745.33 L1008.50,745.75 L1011.50,746.16 L1014.50,746.57 L1017.50,746.96 L1020.50,747.34 L1023.50,747.71 L1026.50,748.07 L1029.50,748.41 L1032.50,748.75 L1035.50,749.08 L1038.50,749.39 L1041.50,749.70 L1044.50,749.99 L1047.50,750.27 L1050.50,750.55 L1053.50,750.81 L1056.50,751.06 L1059.50,751.30 L1062.50,751.53 L1065.50,751.74 L1068.50,751.95 L1071.50,752.15 L1074.50,752.33 L1077.50,752.51 L1080.50,752.67 L1083.50,752.82 L1086.50,752.96 L1089.50,753.10 L1092.50,753.22 L1095.50,753.33 L1098.50,753.43 L1101.50,753.52 L1104.50,753.60 L1107.50,753.67 L1110.50,753.73 L1113.50,753.78 L1116.50,753.82 L1119.50,753.86 L1122.50,753.89 L1125.50,753.91 L1128.50,753.92 L1131.50,753.92 L1134.50,753.92 L1137.50,753.91 L1140.50,753.90 L1143.50,753.87 L1146.50,753.85 L1149.50,753.81 L1152.50,753.78 L1155.50,753.73 L1158.50,753.68 L1161.50,753.63 L1164.50,753.58 L1167.50,753.51 L1170.50,753.45 L1173.50,753.38 L1176.50,753.31 L1179.50,753.24 L1182.50,753.16 L1185.50,753.08 L1188.50,753.00 L1191.50,752.92 L1194.50,752.83 L1197.50,752.74 L1200.50,752.65 L1203.50,752.55 L1206.50,752.46 L1209.50,752.36 L1212.50,752.26 L1215.50,752.15 L1218.50,752.05 L1221.50,751.94 L1224.50,751.83 L1227.50,751.72 L1230.50,751.61 L1233.50,751.49 L1236.50,751.37 L1239.50,751.25 L1242.50,751.13 L1245.50,751.01 L1248.50,750.88 L1251.50,750.75 L1254.50,750.62 L1257.50,750.49 L1260.50,750.36 L1263.50,750.22 L1266.50,750.09 L1269.50,749.95 L1272.50,749.81 L1275.50,749.67 L1278.50,749.52 L1281.50,749.38 L1284.50,749.23 L1287.50,749.08 L1290.50,748.93 L1293.50,748.78 L1296.50,748.63 L1299.50,748.48 L1302.50,748.32 L1305.50,748.17 L1308.50,748.01 L1311.50,747.85 L1314.50,747.69 L1317.50,747.53 L1320.50,747.37 L1323.50,747.20 L1326.50,747.04 L1329.50,746.87 L1332.50,746.71 L1335.50,746.54 L1338.50,746.37 L1341.50,746.20 L1344.50,746.03 L1347.50,745.86 L1350.50,745.69 L1353.50,745.52 L1356.50,745.34 L1359.50,745.17 L1362.50,745.00 L1365.50,744.83 L1368.50,744.66 L1371.50,744.49 L1374.50,744.32 L1377.50,744.15 L1380.50,743.98 L1383.50,743.82 L1386.50,743.65 L1389.50,743.49 L1392.50,743.34 L1395.50,743.18 L1398.50,743.03 L1401.50,742.88 L1404.50,742.73 L1407.50,742.59 L1410.50,742.45 L1413.50,742.32 L1416.50,742.18 L1419.50,742.06 L1422.50,741.94 L1425.50,741.82 L1428.50,741.71 L1431.50,741.60 L1434.50,741.50 L1437.50,741.41 L1440.50,741.32 L1443.50,741.24 L1446.50,741.16 L1449.50,741.09 L1452.50,741.03 L1455.50,740.97 L1458.50,740.92 L1461.50,740.88 L1464.50,740.85 L1467.50,740.83 L1470.50,740.81 L1473.50,740.80 L1476.50,740.80 L1479.50,740.81 L1482.50,740.83 L1485.50,740.86 L1488.50,740.90 L1491.50,740.94 L1494.50,741.00 L1497.50,741.07 L1500.50,741.15 L1503.50,741.24 L1506.50,741.33 L1509.50,741.45 L1512.50,741.57 L1515.50,741.70 L1518.50,741.85 L1521.50,742.01 L1524.50,742.18 L1527.50,742.36 L1530.50,742.55 L1533.50,742.76 L1536.50,742.98 L1539.50,743.21 L1542.50,743.46 L1545.50,743.71 L1548.50,743.98 L1551.50,744.26 L1554.50,744.55 L1557.50,744.85 L1560.50,745.16 L1563.50,745.48 L1566.50,745.82 L1569.50,746.16 L1572.50,746.51 L1575.50,746.88 L1578.50,747.25 L1581.50,747.63 L1584.50,748.03 L1587.50,748.43 L1590.50,748.84 L1593.50,749.26 L1596.50,749.69 L1599.50,750.13 L1602.50,750.57 L1605.50,751.03 L1608.50,751.49 L1611.50,751.96 L1614.50,752.44 L1617.50,752.93 L1620.50,753.42 L1623.50,753.92 L1626.50,754.43 L1629.50,754.95 L1632.50,755.47 L1635.50,756.00 L1638.50,756.53 L1641.50,757.08 L1644.50,757.62 L1647.50,758.18 L1650.50,758.74 L1653.50,759.30 L1656.50,759.87 L1659.50,760.45 L1662.50,761.03 L1665.50,761.62 L1668.50,762.21 L1671.50,762.81 L1674.50,763.41 L1677.50,764.01 L1680.50,764.62 L1683.50,765.23 L1686.50,765.85 L1689.50,766.47 L1691.00,766.78" stroke="#000000" stroke-width="8.60" stroke-dasharray="8.8 6.285"/>
</g>
<text class="t" x="213.56" y="87.80" font-size="81.00" textLength="80.46" lengthAdjust="spacingAndGlyphs">10</text>
<text class="t" x="292.84" y="60.90" font-size="61.50">2</text>
<text class="t" x="213.56" y="322.70" font-size="81.00" textLength="80.46" lengthAdjust="spacingAndGlyphs">10</text>
<text class="t" x="289.94" y="294.90" font-size="61.50">1</text>
<text class="t" x="213.56" y="556.70" font-size="81.00" textLength="80.46" lengthAdjust="spacingAndGlyphs">10</text>
<text class="t" x="291.91" y="529.20" font-size="61.50">0</text>
<text class="t" x="166.06" y="792.00" font-size="81.00" textLength="80.46" lengthAdjust="spacingAndGlyphs">10</text>
<text class="t" x="246.59" y="769.10" font-size="61.50" textLength="44.16" lengthAdjust="spacingAndGlyphs">−</text>
<text class="t" x="289.54" y="764.00" font-size="61.50">1</text>
<text class="t" x="166.06" y="1026.50" font-size="81.00" textLength="80.46" lengthAdjust="spacingAndGlyphs">10</text>
<text class="t" x="246.59" y="1003.60" font-size="61.50" textLength="44.16" lengthAdjust="spacingAndGlyphs">−</text>
<text class="t" x="292.64" y="998.70" font-size="61.50">2</text>
<text class="t" x="469.69" y="1085.70" font-size="81.00" textLength="80.11" lengthAdjust="spacingAndGlyphs">10</text>
<text class="t" x="547.41" y="1058.90" font-size="61.50">0</text>
<text class="t" x="1052.59" y="1085.70" font-size="81.00" textLength="80.11" lengthAdjust="spacingAndGlyphs">10</text>
<text class="t" x="1127.74" y="1058.90" font-size="61.50">1</text>
<text class="t" x="1633.79" y="1085.70" font-size="81.00" textLength="80.11" lengthAdjust="spacingAndGlyphs">10</text>
<text class="t" x="1712.94" y="1058.90" font-size="61.50">2</text>
<text class="lab" x="901.38" y="1194.50" font-size="81.00" font-style="italic" textLength="33.96" lengthAdjust="spacingAndGlyphs">p</text>
<text class="lab" x="955.32" y="1194.50" font-size="81.00" textLength="193.47" lengthAdjust="spacingAndGlyphs">in bar</text>
<g transform="translate(86.8,700) rotate(-90)">
<text class="lab" x="22.69" y="0.00" font-size="81.00" font-style="italic" textLength="34.19" lengthAdjust="spacingAndGlyphs">δ</text>
<text class="lab" x="65.81" y="16.70" font-size="61.50" font-style="italic" textLength="16.52" lengthAdjust="spacingAndGlyphs">f</text>
<text class="lab" x="111.51" y="0.00" font-size="81.00" textLength="218.63" lengthAdjust="spacingAndGlyphs">in mm</text>
</g>
<rect x="1733.0" y="56.0" width="509.0" height="498.8" fill="#fff" stroke="#000" stroke-width="3.6"/>
<path d="M1758.8,117.90H1888" stroke="#FFED00" stroke-width="7.90" fill="none"/>
<text class="t" x="1924.95" y="138.80" font-size="81.00" textLength="62.08" lengthAdjust="spacingAndGlyphs">Φ</text>
<text class="eq" x="2006.13" y="145.74" font-size="81.00" textLength="65.04" lengthAdjust="spacingAndGlyphs">=</text>
<text class="t" x="2089.82" y="138.80" font-size="81.00" textLength="96.37" lengthAdjust="spacingAndGlyphs">0.3</text>
<path d="M1758.8,211.50H1888" stroke="#FCC95D" stroke-width="7.90" fill="none" stroke-dasharray="23.4 21.6"/>
<text class="t" x="1905.65" y="232.80" font-size="81.00" textLength="62.08" lengthAdjust="spacingAndGlyphs">Φ</text>
<text class="eq" x="1986.83" y="239.74" font-size="81.00" textLength="65.04" lengthAdjust="spacingAndGlyphs">=</text>
<text class="t" x="2070.52" y="232.80" font-size="81.00" textLength="134.87" lengthAdjust="spacingAndGlyphs">0.33</text>
<path d="M1758.8,304.90H1888" stroke="#FB8B3A" stroke-width="7.90" fill="none" stroke-dasharray="23.4 14.3"/>
<text class="t" x="1905.65" y="326.20" font-size="81.00" textLength="62.08" lengthAdjust="spacingAndGlyphs">Φ</text>
<text class="eq" x="1986.83" y="333.13" font-size="81.00" textLength="65.04" lengthAdjust="spacingAndGlyphs">=</text>
<text class="t" x="2070.52" y="326.20" font-size="81.00" textLength="134.87" lengthAdjust="spacingAndGlyphs">0.35</text>
<path d="M1758.8,398.90H1888" stroke="#E31A1C" stroke-width="7.90" fill="none" stroke-dasharray="8.0 14.6"/>
<text class="t" x="1924.95" y="420.00" font-size="81.00" textLength="62.08" lengthAdjust="spacingAndGlyphs">Φ</text>
<text class="eq" x="2006.13" y="426.94" font-size="81.00" textLength="65.04" lengthAdjust="spacingAndGlyphs">=</text>
<text class="t" x="2089.84" y="420.00" font-size="81.00" textLength="95.69" lengthAdjust="spacingAndGlyphs">0.4</text>
<path d="M1758.8,493.00H1888" stroke="#000000" stroke-width="7.90" fill="none" stroke-dasharray="7.9 7.25"/>
<text class="t" x="1924.95" y="513.70" font-size="81.00" textLength="62.08" lengthAdjust="spacingAndGlyphs">Φ</text>
<text class="eq" x="2006.13" y="520.64" font-size="81.00" textLength="65.04" lengthAdjust="spacingAndGlyphs">=</text>
<text class="t" x="2089.82" y="513.70" font-size="81.00" textLength="96.37" lengthAdjust="spacingAndGlyphs">0.5</text>
</svg></body></html>
